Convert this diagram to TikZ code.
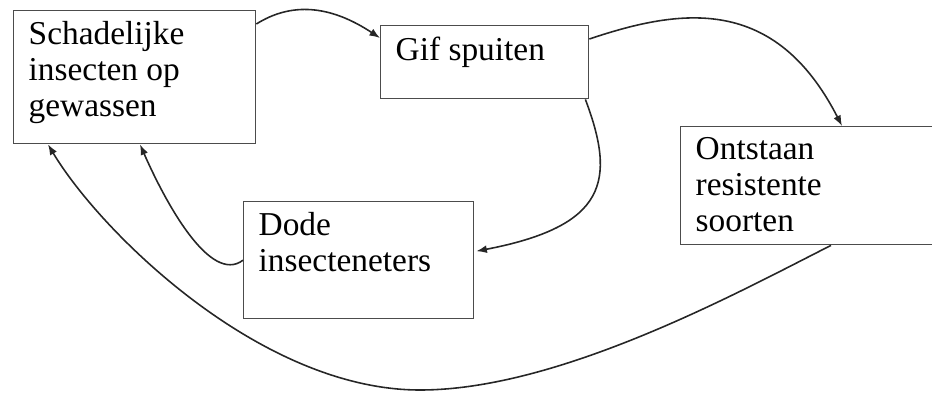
\documentclass[tikz,border=0pt]{standalone}
\usepackage{fontspec}
\setmainfont{Liberation Serif}
\usetikzlibrary{calc,arrows.meta}

\begin{document}
\begin{tikzpicture}[x=0.02cm,y=-0.02cm,
  box/.style={draw=black!70,line width=0.8pt,anchor=north west,inner xsep=0.3cm,inner ysep=0.22cm,
    font=\fontsize{19}{20.5}\selectfont},
  arr/.style={black!85,line width=0.9pt,-{Latex[length=6pt,width=4.5pt]}}]
\useasboundingbox (0,0) rectangle (932,392);
\clip (0,0) rectangle (932,392);
\node[box] (ins) at (13,10) {\parbox[c][2.22cm][t]{4.24cm}{\raggedright Schadelijke\\insecten op\\gewassen}};
\node[box] (gif) at (380,25) {\parbox[c][1.02cm][t]{3.56cm}{\raggedright Gif spuiten}};
\node[box] (res) at (680,126) {\parbox[c][1.92cm][t]{5.4cm}{\raggedright Ontstaan\\resistente\\soorten}};
\node[box] (dode) at (243,201) {\parbox[c][1.9cm][t]{4.0cm}{\raggedright Dode\\insecteneters}};
\coordinate (dip) at (420,390);
\draw[arr] ($(ins.north east)+(0,14)$) .. controls +(35,-22) and +(-50,-33) .. ($(gif.north west)+(0,13)$);
\draw[arr] ($(gif.north east)+(0,14)$) .. controls +(92,-31) and +(-67,-131) .. ($(res.north west)+(162,0)$);
\draw[arr] ($(gif.south east)+(-4,0)$) .. controls +(31,82) and +(130,-25) .. ($(dode.east)+(2,-9)$);
\draw[arr] (dode.west) .. controls +(-33,25) and +(25,57) .. ($(ins.south west)+(127,0)$);
\draw[arr] ($(res.south west)+(151,0)$) .. controls +(-91,46) and +(140,0) .. (dip)
  .. controls +(-160,0) and +(52,87) .. ($(ins.south west)+(35,0)$);
\end{tikzpicture}
\end{document}
